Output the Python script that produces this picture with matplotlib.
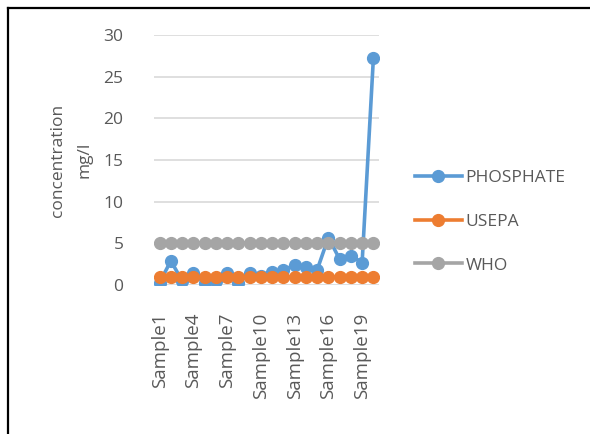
import matplotlib
matplotlib.use("Agg")
import matplotlib.pyplot as plt
from matplotlib.lines import Line2D

samples = [f"Sample{i}" for i in range(1, 21)]
phosphate = [0.3, 2.9, 0.5, 1.5, 0.2, 0.5, 1.5, 0.2, 1.5, 1.1,
             1.6, 1.8, 2.4, 2.2, 1.8, 5.7, 3.1, 3.5, 2.7, 27.2]
usepa = [1.0] * 20
who = [5.0] * 20
y_ticks = [0, 5, 10, 15, 20, 25, 30]

plt.rcParams['font.family'] = ['Open Sans', 'DejaVu Sans']
text_color = "#595959"
fs = 12.5

fig = plt.figure(figsize=(5.9, 4.34), dpi=100)
ax = fig.add_axes([154 / 590, 1 - 285 / 434, (379 - 154) / 590, (285 - 35) / 434])

x = list(range(len(samples)))
series = [
    ("PHOSPHATE", phosphate, "#5b9bd5"),
    ("USEPA", usepa, "#ed7d31"),
    ("WHO", who, "#a5a5a5"),
]
for name, vals, col in series:
    ax.plot(x, vals, color=col, lw=2.6, marker="o", ms=8.5, label=name,
            solid_joinstyle="round")

ax.set_xlim(-0.5, len(samples) - 0.5)
ax.set_ylim(0, 30)
ax.set_yticks(y_ticks)
ax.set_xticks(x[::3])
ax.set_xticklabels(samples[::3], rotation=90, va="top", ha="center")
ax.grid(axis="y", color="#d9d9d9", lw=1.2)
ax.set_axisbelow(True)
for s in ax.spines.values():
    s.set_visible(False)
ax.tick_params(axis="both", length=0, colors=text_color, labelsize=fs)
ax.tick_params(axis="x", labelsize=13.5)
ax.tick_params(axis="y", pad=22)
ax.tick_params(axis="x", pad=20)
for lbl in ax.get_xticklabels() + ax.get_yticklabels():
    lbl.set_color(text_color)

ax.set_ylabel("concentration\nmg/l", color=text_color, fontsize=fs,
              linespacing=1.85, labelpad=8)

leg = ax.legend(loc="center left", bbox_to_anchor=(415 / 590, 1 - 221.5 / 434),
                bbox_transform=fig.transFigure, frameon=False,
                fontsize=fs, handlelength=2.7, handletextpad=0.2,
                labelspacing=1.6, borderpad=0, borderaxespad=0,
                labelcolor=text_color)

# outer frame lines (top and left)
fig.add_artist(Line2D([8 / 590, 1.0], [1 - 8 / 434, 1 - 8 / 434],
                      color="black", lw=1.6, transform=fig.transFigure))
fig.add_artist(Line2D([8 / 590, 8 / 590], [0.0, 1 - 8 / 434],
                      color="black", lw=1.6, transform=fig.transFigure))

fig.savefig("out.png", dpi=100)
